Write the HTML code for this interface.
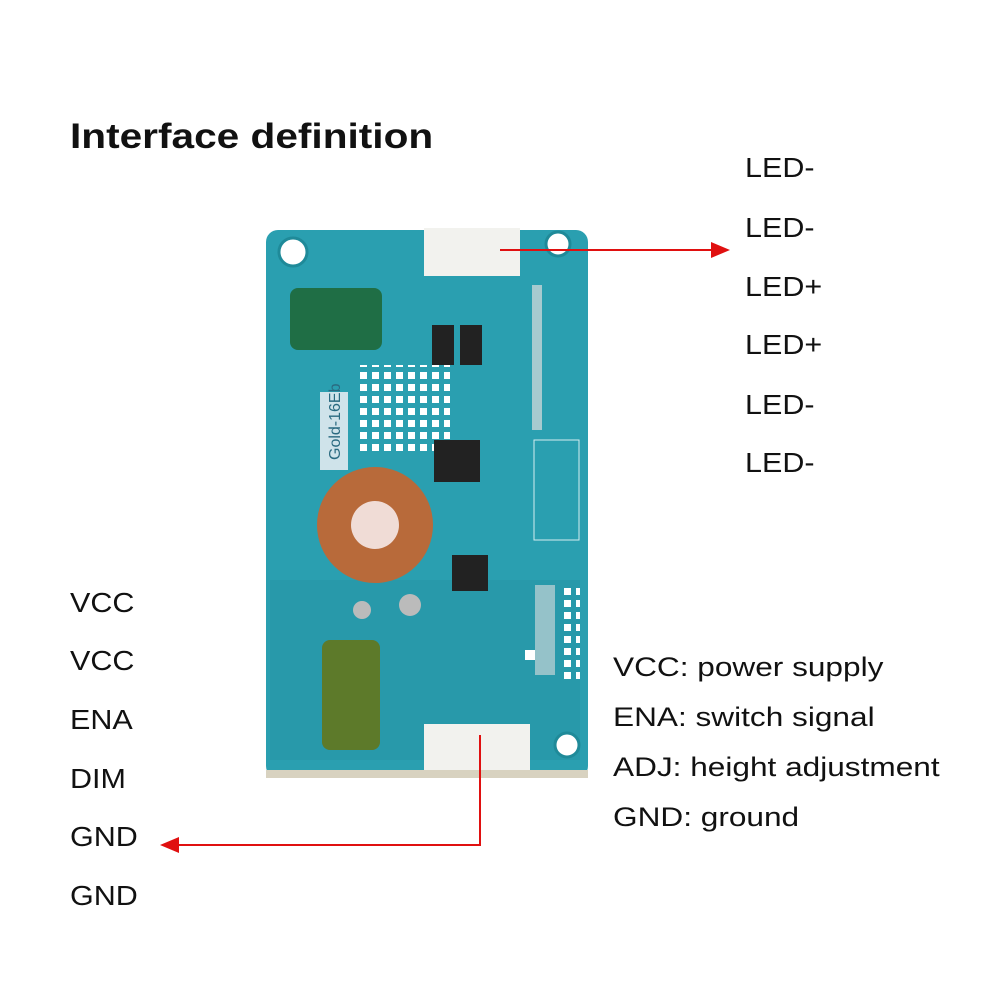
<!DOCTYPE html><html><head><style>
body{margin:0;width:1000px;height:1000px;background:#fff;position:relative;overflow:hidden;font-family:"Liberation Sans",sans-serif}
.t{position:absolute;color:#111;white-space:nowrap;transform-origin:0 0}
.l{font-size:28px;line-height:28px;transform:scaleX(1.09)}
.r{font-size:27px;line-height:27px;transform:scaleX(1.17)}
.a{position:absolute}
</style></head><body>
<div class="t" style="left:70px;top:117px;font-size:35px;font-weight:bold;transform:scaleX(1.16)">Interface definition</div>
<div class="t l" style="left:745px;top:154px">LED-</div>
<div class="t l" style="left:745px;top:214px">LED-</div>
<div class="t l" style="left:745px;top:273px">LED+</div>
<div class="t l" style="left:745px;top:331px">LED+</div>
<div class="t l" style="left:745px;top:391px">LED-</div>
<div class="t l" style="left:745px;top:449px">LED-</div>
<div class="t l" style="left:70px;top:589px">VCC</div>
<div class="t l" style="left:70px;top:647px">VCC</div>
<div class="t l" style="left:70px;top:706px">ENA</div>
<div class="t l" style="left:70px;top:765px">DIM</div>
<div class="t l" style="left:70px;top:823px">GND</div>
<div class="t l" style="left:70px;top:882px">GND</div>
<div class="t r" style="left:613px;top:654px">VCC: power supply</div>
<div class="t r" style="left:613px;top:704px">ENA: switch signal</div>
<div class="t r" style="left:613px;top:754px">ADJ: height adjustment</div>
<div class="t r" style="left:613px;top:804px">GND: ground</div>
<svg class="a" style="left:0;top:0" width="1000" height="1000">
<defs><pattern id="d" width="12" height="12" patternUnits="userSpaceOnUse"><rect width="7" height="7" fill="#fff"/></pattern></defs>
<rect x="266" y="230" width="322" height="548" rx="12" fill="#2a9fb0"/>
<rect x="266" y="770" width="322" height="8" fill="#d8d2c0"/>
<rect x="270" y="580" width="310" height="180" fill="#2899aa"/>
<circle cx="293" cy="252" r="14" fill="#fff" stroke="#1f8a99" stroke-width="3"/>
<circle cx="558" cy="244" r="12" fill="#fff" stroke="#1f8a99" stroke-width="3"/>
<circle cx="567" cy="745" r="12" fill="#fff" stroke="#1f8a99" stroke-width="3"/>
<rect x="424" y="228" width="96" height="48" fill="#f2f2ee"/>
<rect x="424" y="724" width="106" height="46" fill="#f2f2ee"/>
<rect x="290" y="288" width="92" height="62" rx="8" fill="#1f6e45"/>
<rect x="322" y="640" width="58" height="110" rx="8" fill="#5d7a2a"/>
<rect x="320" y="392" width="28" height="78" fill="#cfe3ea"/>
<text x="340" y="460" font-size="16" fill="#2a6a80" transform="rotate(-90 340 460)" font-family="Liberation Sans">Gold-16Eb</text>
<rect x="355" y="365" width="95" height="90" fill="url(#d)"/>
<rect x="432" y="325" width="22" height="40" fill="#222"/>
<rect x="460" y="325" width="22" height="40" fill="#222"/>
<rect x="434" y="440" width="46" height="42" fill="#222"/>
<rect x="452" y="555" width="36" height="36" fill="#222"/>
<circle cx="375" cy="525" r="58" fill="#b86a3a"/>
<circle cx="375" cy="525" r="24" fill="#f0dcd6"/>
<circle cx="410" cy="605" r="11" fill="#bbb"/>
<circle cx="362" cy="610" r="9" fill="#bbb"/>
<rect x="525" y="650" width="10" height="10" fill="#fff"/>
<rect x="534" y="440" width="45" height="100" fill="none" stroke="#fff" opacity=".8"/>
<rect x="535" y="585" width="20" height="90" fill="#ddd" opacity=".6"/><rect x="560" y="585" width="20" height="95" fill="url(#d)"/>
<rect x="532" y="285" width="10" height="145" fill="#ddd" opacity=".7"/>
<line x1="500" y1="250" x2="713" y2="250" stroke="#e01010" stroke-width="2"/>
<polygon points="730,250 711,242 711,258" fill="#e01010"/>
<polyline points="480,735 480,845 178,845" fill="none" stroke="#e01010" stroke-width="2"/>
<polygon points="160,845 179,837 179,853" fill="#e01010"/>
</svg>
</body></html>
